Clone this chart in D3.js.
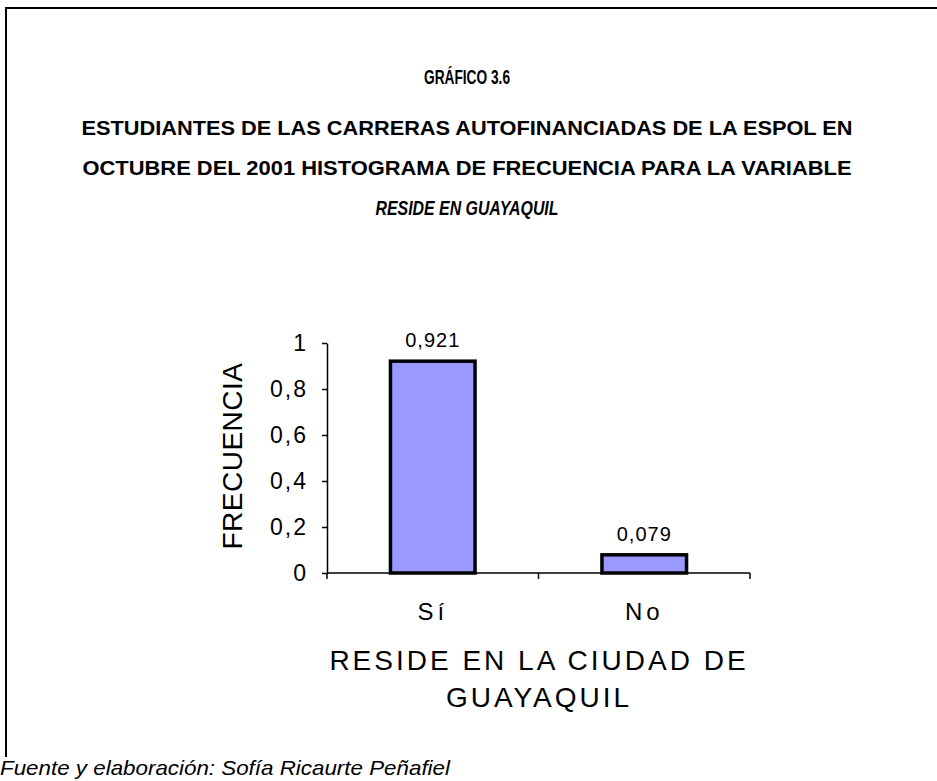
<!DOCTYPE html>
<html lang="es">
<head>
    <meta charset="UTF-8">
    <title>Gráfico 3.6 - Reside en Guayaquil</title>
    <script src="https://d3js.org/d3.v7.min.js"></script>
    <style>
        body { margin: 0; background: #fff; }
        svg text { font-family: "Liberation Sans", Arial, sans-serif; fill: #000; }
        .titulo { font-weight: bold; font-size: 21px; }
        .tick text { font-size: 23px; letter-spacing: 2px; }
    </style>
</head>
<body>
<script>
    // datos
    const categorias = ["Sí", "No"];
    const frecuencias = [0.921, 0.079];
    const yTicks = [0, 0.2, 0.4, 0.6, 0.8, 1];
    const titulos = [
        "GRÁFICO 3.6",
        "ESTUDIANTES DE LAS CARRERAS AUTOFINANCIADAS DE LA ESPOL EN",
        "OCTUBRE DEL 2001 HISTOGRAMA DE FRECUENCIA PARA LA VARIABLE",
        "RESIDE EN GUAYAQUIL"
    ];
    const ejeX = ["RESIDE EN LA CIUDAD DE", "GUAYAQUIL"];
    const ejeY = "FRECUENCIA";
    const fuente = "Fuente y elaboración: Sofía Ricaurte Peñafiel";

    const width = 937, height = 781;
    const margin = { top: 343, right: 187, bottom: 208, left: 327 };

    const es = d3.formatLocale({ decimal: ",", thousands: ".", grouping: [3], currency: ["$", ""] });
    const fmtTick = es.format("~g");
    const fmtVal = es.format(".3f");

    const svg = d3.select("body").append("svg")
        .attr("width", width)
        .attr("height", height);

    // marco (solo borde superior e izquierdo visibles)
    svg.append("path")
        .attr("d", `M6,757 V8 H${width}`)
        .attr("fill", "none")
        .attr("stroke", "#000")
        .attr("stroke-width", 2);

    // títulos
    const tLines = [
        { y: 84, len: 86, italic: false },
        { y: 135, len: 771, italic: false },
        { y: 175, len: 769, italic: false },
        { y: 215, len: 183, italic: true }
    ];
    svg.selectAll(".titulo")
        .data(titulos)
        .join("text")
        .attr("class", "titulo")
        .attr("x", 467)
        .attr("y", (d, i) => tLines[i].y)
        .attr("text-anchor", "middle")
        .attr("textLength", (d, i) => tLines[i].len)
        .attr("lengthAdjust", "spacingAndGlyphs")
        .style("font-style", (d, i) => tLines[i].italic ? "italic" : "normal")
        .text(d => d);

    // escalas
    const x = d3.scaleBand()
        .domain(categorias)
        .range([margin.left, width - margin.right])
        .paddingInner(0.6)
        .paddingOuter(0.3);

    const y = d3.scaleLinear()
        .domain([0, 1])
        .range([height - margin.bottom, margin.top]);

    // eje y
    const gy = svg.append("g")
        .attr("transform", `translate(${margin.left},0)`)
        .call(d3.axisLeft(y).tickValues(yTicks).tickFormat(fmtTick).tickSize(5).tickSizeOuter(0).tickPadding(14));
    gy.select(".domain").attr("stroke-width", 1.5);
    gy.selectAll(".tick line").attr("stroke-width", 1.5);

    // eje x: línea y marcas en los límites de cada categoría
    const x0 = x.range()[0];
    const gx = svg.append("g")
        .attr("transform", `translate(0,${y(0)})`);
    gx.append("line")
        .attr("x1", x0).attr("x2", x.range()[1])
        .attr("stroke", "#000").attr("stroke-width", 1.5);
    gx.selectAll(".marca")
        .data(d3.range(categorias.length + 1))
        .join("line")
        .attr("class", "marca")
        .attr("x1", i => x0 + i * x.step())
        .attr("x2", i => x0 + i * x.step())
        .attr("y1", 0).attr("y2", 6)
        .attr("stroke", "#000").attr("stroke-width", 1.5);
    gx.selectAll(".cat")
        .data(categorias)
        .join("text")
        .attr("class", "cat")
        .attr("x", d => x(d) + x.bandwidth() / 2)
        .attr("y", 47)
        .attr("text-anchor", "middle")
        .style("font-size", "24px")
        .style("letter-spacing", "4px")
        .text(d => d);

    // barras
    svg.selectAll(".bar")
        .data(frecuencias)
        .join("rect")
        .attr("class", "bar")
        .attr("x", (d, i) => x(categorias[i]))
        .attr("y", d => y(d))
        .attr("width", x.bandwidth())
        .attr("height", d => y(0) - y(d))
        .attr("fill", "#9999FF")
        .attr("stroke", "#000")
        .attr("stroke-width", 3.5);

    // etiquetas de valor
    svg.selectAll(".valor")
        .data(frecuencias)
        .join("text")
        .attr("class", "valor")
        .attr("x", (d, i) => x(categorias[i]) + x.bandwidth() / 2)
        .attr("y", d => y(d) - 14)
        .attr("text-anchor", "middle")
        .style("font-size", "20px")
        .style("letter-spacing", "1px")
        .text(d => fmtVal(d));

    // título eje y
    svg.append("text")
        .attr("transform", "translate(242,456) rotate(-90)")
        .attr("text-anchor", "middle")
        .style("font-size", "28px")
        .style("letter-spacing", "0.5px")
        .text(ejeY);

    // título eje x
    svg.selectAll(".ejex")
        .data(ejeX)
        .join("text")
        .attr("class", "ejex")
        .attr("x", 539)
        .attr("y", (d, i) => 670 + i * 37)
        .attr("text-anchor", "middle")
        .style("font-size", "28px")
        .style("letter-spacing", "3px")
        .text(d => d);

    // fuente
    svg.append("text")
        .attr("x", 0)
        .attr("y", 775)
        .style("font-size", "21px")
        .style("font-style", "italic")
        .attr("textLength", 450)
        .attr("lengthAdjust", "spacingAndGlyphs")
        .text(fuente);
</script>
</body>
</html>
